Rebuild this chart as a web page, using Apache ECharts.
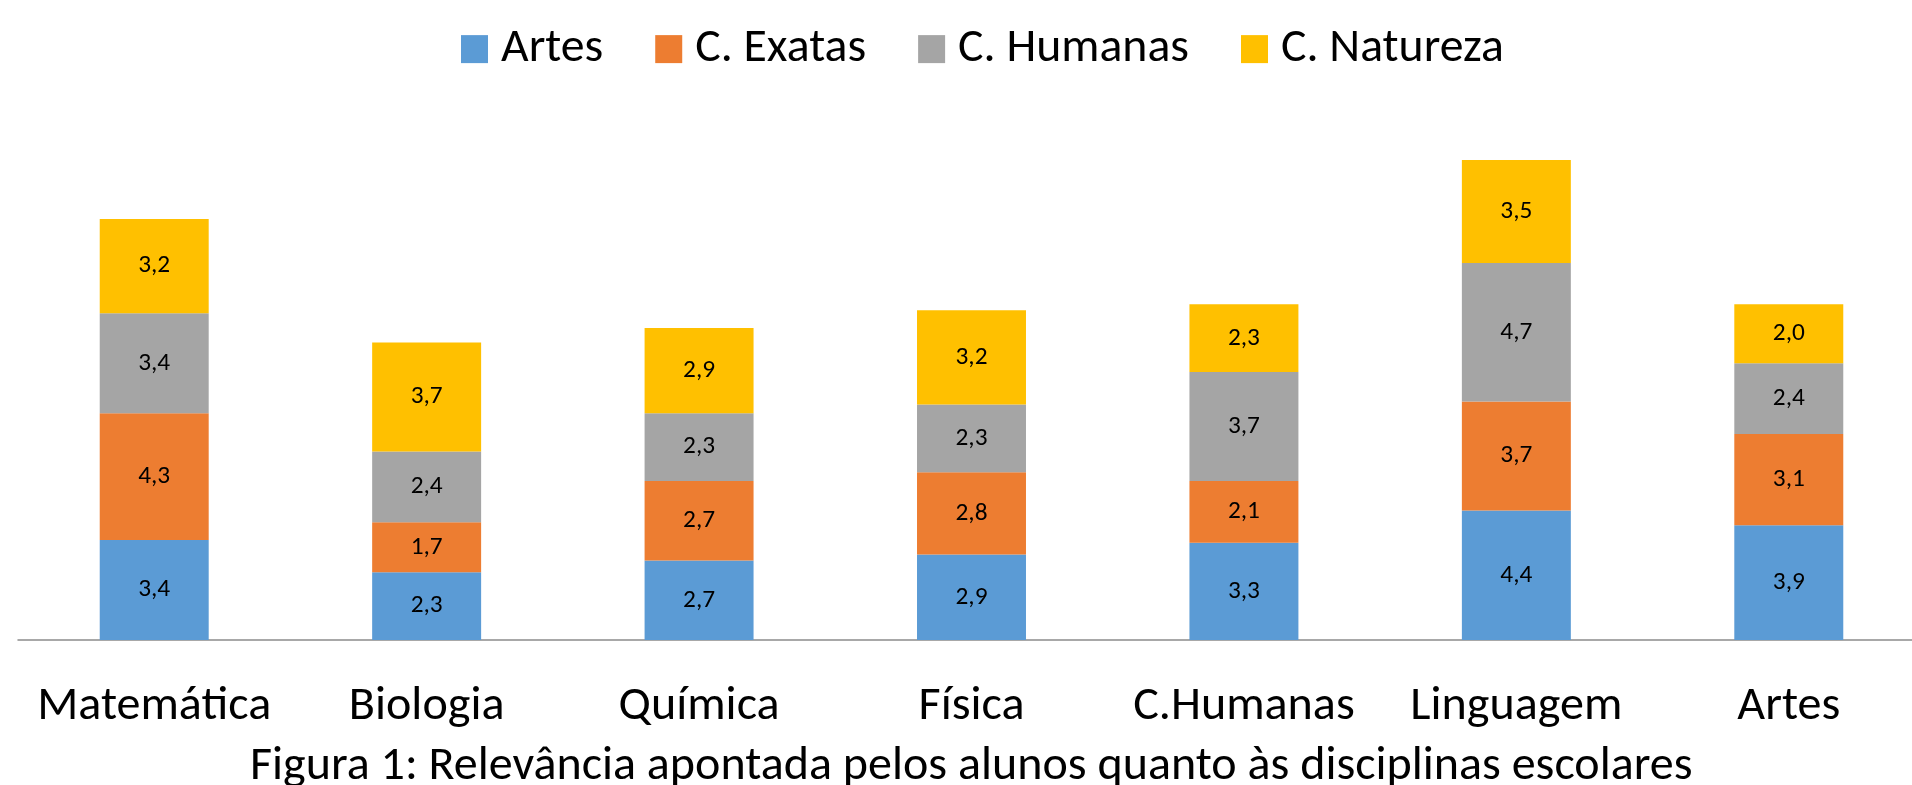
<!DOCTYPE html>
<html>
<head>
<meta charset="utf-8">
<script src="https://cdn.jsdelivr.net/npm/echarts@6/dist/echarts.min.js"></script>
<style>
  html, body { margin: 0; padding: 0; background: #fff; }
  #main { width: 1912px; height: 785px; }
</style>
</head>
<body>
<div id="main"></div>
<script>
// dados
const disciplinas = ['Matemática', 'Biologia', 'Química', 'Física', 'C.Humanas', 'Linguagem', 'Artes']
const artes = [3.4, 2.3, 2.7, 2.9, 3.3, 4.4, 3.9]
const exatas = [4.3, 1.7, 2.7, 2.8, 2.1, 3.7, 3.1]
const humanas = [3.4, 2.4, 2.3, 2.3, 3.7, 4.7, 2.4]
const natureza = [3.2, 3.7, 2.9, 3.2, 2.3, 3.5, 2.0]
const legenda = ['Artes', 'C. Exatas', 'C. Humanas', 'C. Natureza']
const cores = ['#5B9BD5', '#ED7D31', '#A5A5A5', '#FFC000']
const titulo = 'Figura 1: Relevância apontada pelos alunos quanto às disciplinas escolares'

const FONTE = 'Carlito, Lato, sans-serif'

// ajusta o tamanho da fonte pela largura medida na imagem
function fitSize (text, width) {
  const ctx = document.createElement('canvas').getContext('2d')
  ctx.font = '100px ' + FONTE
  return 100 * width / ctx.measureText(text).width
}

const labelSize = fitSize('Matemática', 234)
const legendSize = fitSize('C. Natureza', 223)
const valueSize = fitSize('3,4', 32)
const titleSize = fitSize(titulo, 1443)

function serie (name, data, i) {
  return {
    name: name,
    type: 'bar',
    stack: 'total',
    barWidth: '40%',
    data: data,
    itemStyle: { color: cores[i] },
    label: {
      show: true,
      position: 'inside',
      color: '#000',
      fontFamily: FONTE,
      fontSize: valueSize,
      formatter: p => p.value.toFixed(1).replace('.', ',') // vírgula decimal
    }
  }
}

let chart = echarts.init(document.getElementById('main'))
chart.setOption({
  animation: false,
  textStyle: { fontFamily: FONTE },
  legend: {
    data: legenda,
    left: 456,
    top: 44 - legendSize / 2,
    itemWidth: 27,
    itemHeight: 28,
    itemGap: 52,
    icon: 'rect',
    textStyle: {
      fontSize: legendSize,
      color: '#000',
      padding: [0, 0, 0, 8]
    }
  },
  // a última categoria passa um pouco da borda direita
  grid: { left: 18, width: 1907, top: 110, bottom: 145, outerBoundsMode: 'none' },
  xAxis: {
    type: 'category',
    data: disciplinas,
    axisLine: { lineStyle: { color: '#8c8c8c', width: 1.5 } },
    axisTick: { show: false },
    axisLabel: {
      color: '#000',
      fontSize: labelSize,
      margin: 43,
      interval: 0
    }
  },
  yAxis: {
    type: 'value',
    min: 0,
    max: 18,
    show: false,
    splitLine: { show: false }
  },
  graphic: [{
    type: 'text',
    left: 250,
    top: 767 - titleSize / 2,
    style: {
      text: titulo,
      fontFamily: FONTE,
      fontSize: titleSize,
      fill: '#000'
    }
  }],
  series: [
    serie(legenda[0], artes, 0),
    serie(legenda[1], exatas, 1),
    serie(legenda[2], humanas, 2),
    serie(legenda[3], natureza, 3)
  ]
})
</script>
</body>
</html>
